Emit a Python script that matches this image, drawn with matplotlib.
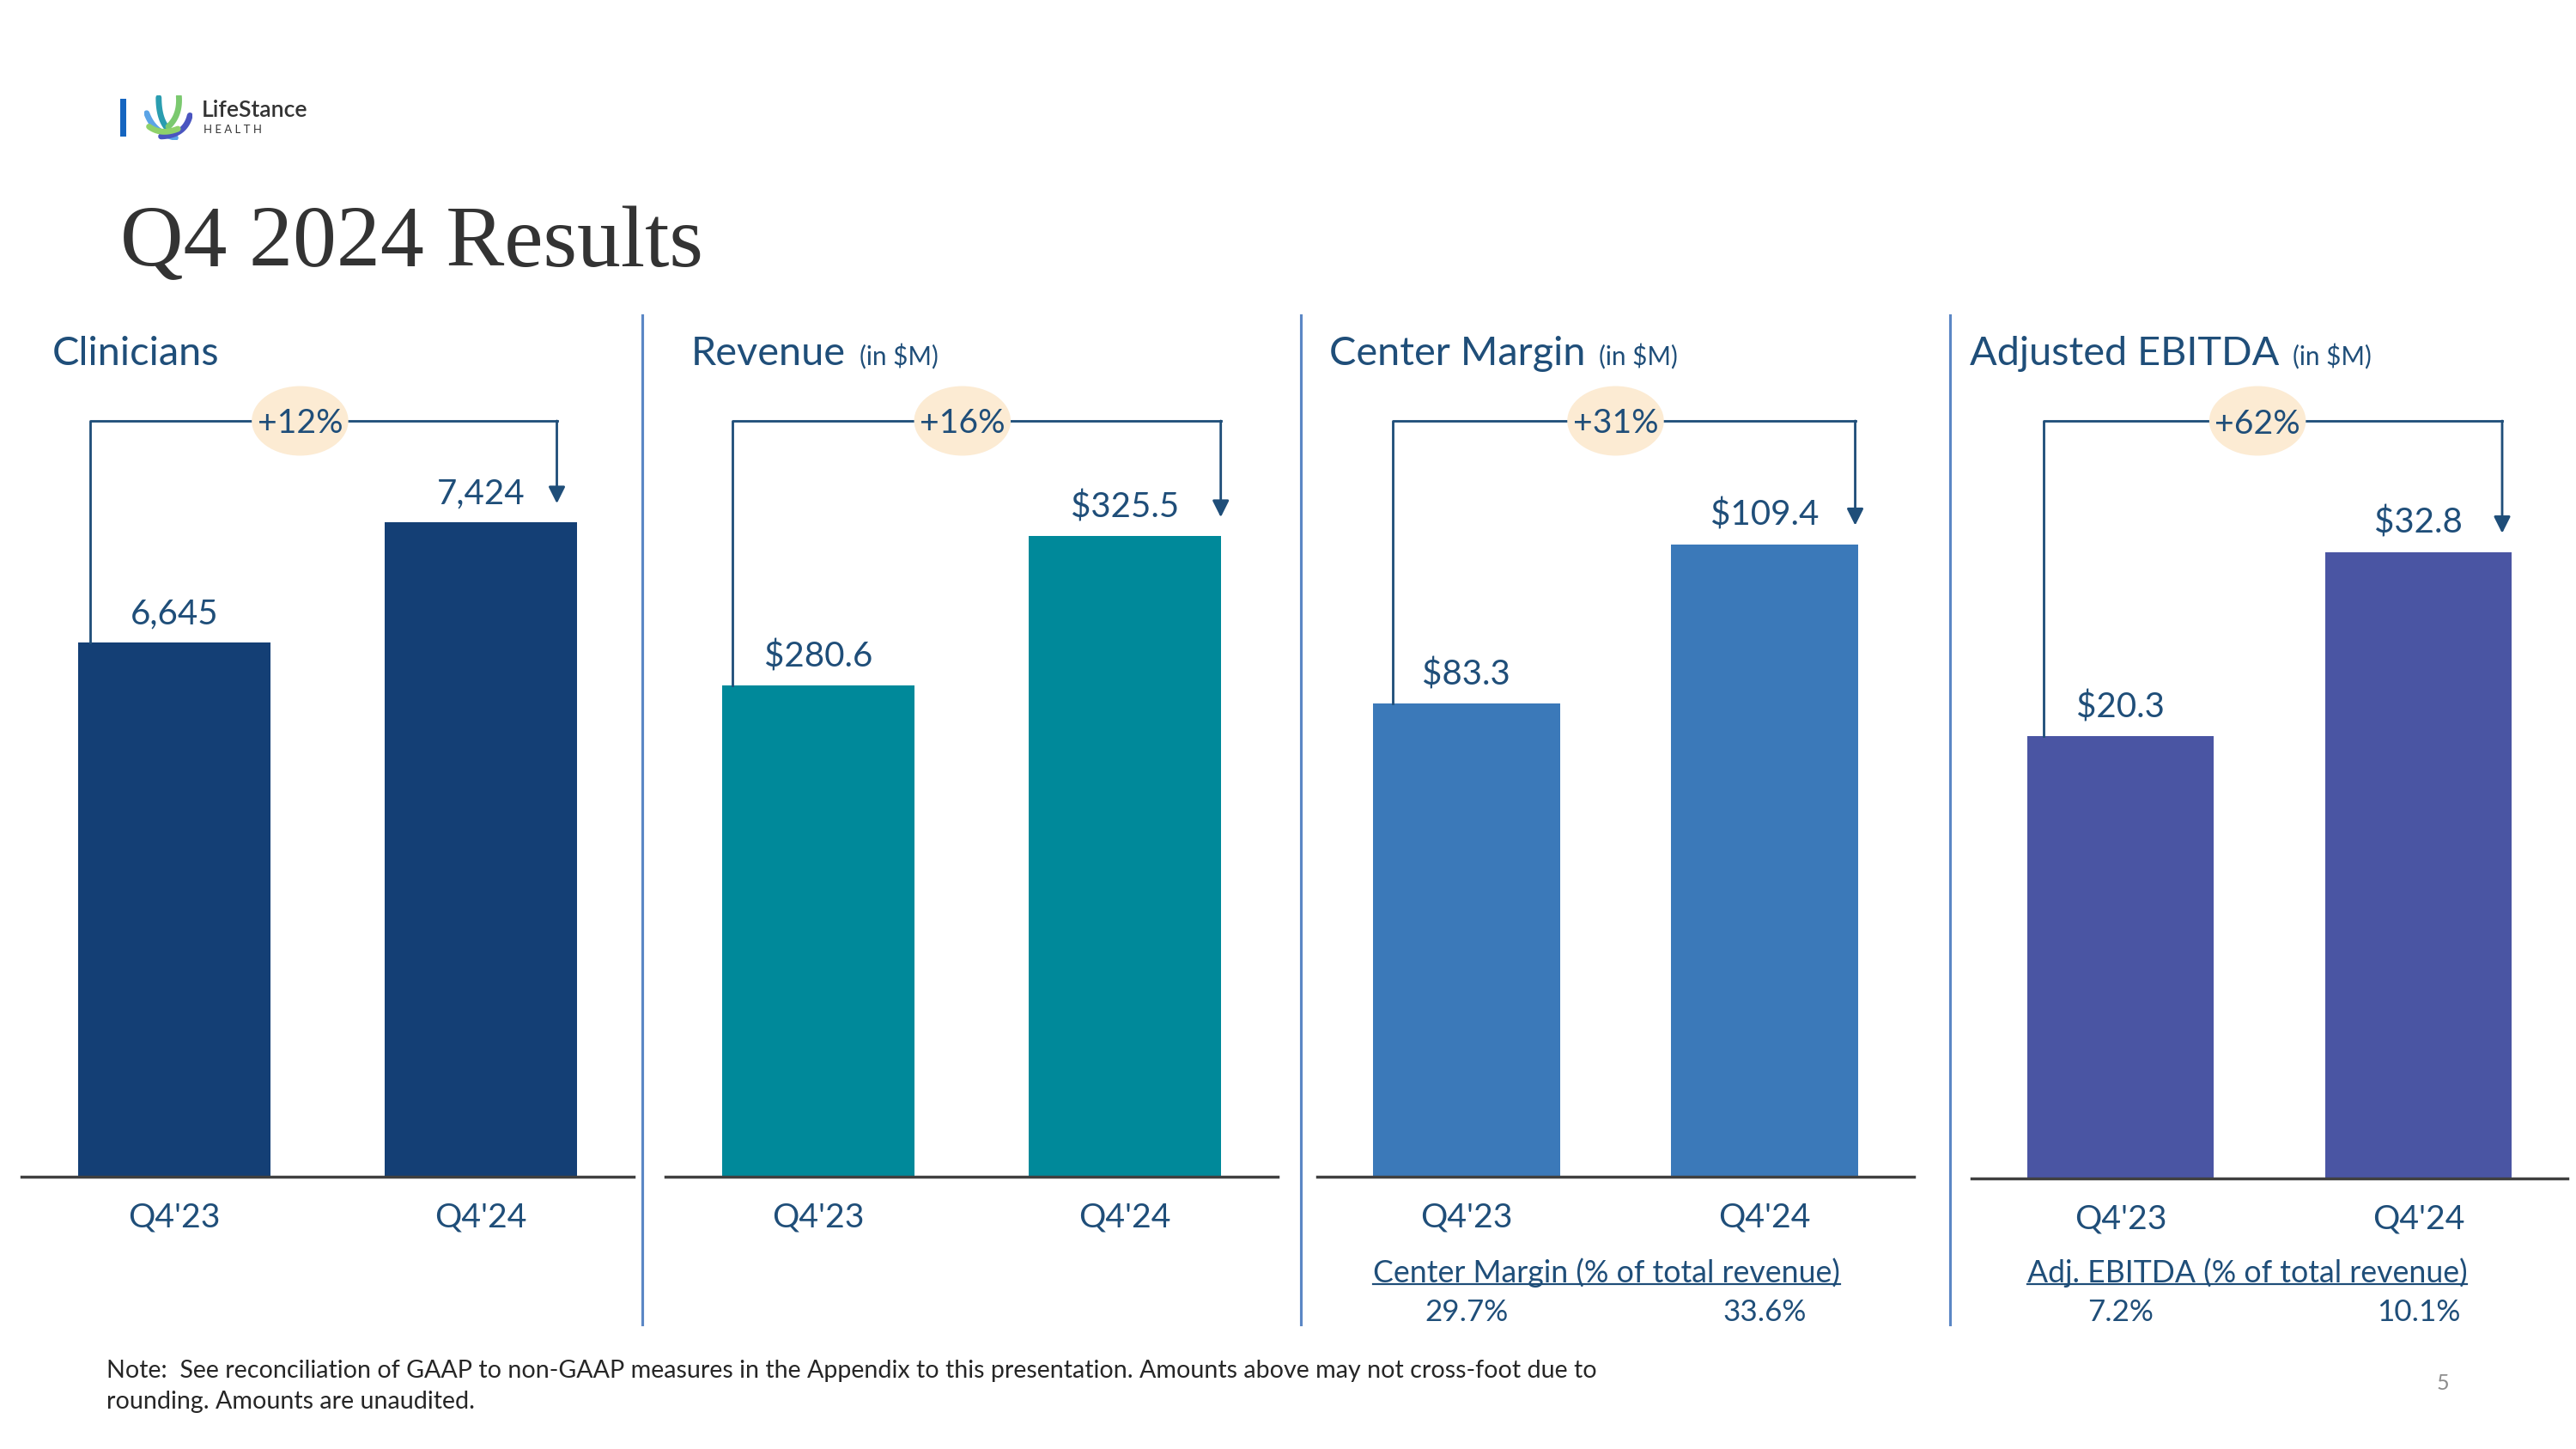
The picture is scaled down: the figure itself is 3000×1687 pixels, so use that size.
import numpy as np
import matplotlib.pyplot as plt
from matplotlib.patches import Ellipse, Rectangle
from matplotlib.lines import Line2D
from matplotlib.transforms import ScaledTranslation, blended_transform_factory

plt.rcParams['font.family'] = ['Lato', 'DejaVu Sans']

# ---- data ----
periods = ["Q4'23", "Q4'24"]
titles = ['Clinicians', 'Revenue', 'Center Margin', 'Adjusted EBITDA']
units = ['', '(in $M)', '(in $M)', '(in $M)']
clinicians = [6645, 7424]
revenue = [280.6, 325.5]
center_margin = [83.3, 109.4]
adj_ebitda = [20.3, 32.8]
growth = ['+12%', '+16%', '+31%', '+62%']
margin_pct = ['29.7%', '33.6%']
ebitda_pct = ['7.2%', '10.1%']
pct_titles = [None, None, 'Center Margin (% of total revenue)', 'Adj. EBITDA (% of total revenue)']

series = [clinicians, revenue, center_margin, adj_ebitda]
fmts = ['{:,.0f}', '${:.1f}', '${:.1f}', '${:.1f}']
pcts = [None, None, margin_pct, ebitda_pct]

# ---- style / layout ----
navy = '#1F4E79'
colors = ['#143F75', '#00899A', '#3B79B9', '#4A55A3']
W, H = 3000, 1687
boxes = [(25, 1370, 713), (775, 1370, 713), (1534, 1370, 695), (2296, 1372, 694)]
top_px = 490
floors = [3184, 133.0, 5.8, -9.7]
ceils = [8081, 360.1, 129.6, 41.7]
left_x = [-0.276, -0.28, -0.248, -0.259]
right_x = [1.249, 1.314, 1.303, 1.281]
badge_x = [0.41, 0.47, 0.50, 0.46]
title_px = [61, 805, 1548, 2294]

fig = plt.figure(figsize=(W / 225, H / 225), dpi=225)

# logo
fig.add_artist(Rectangle((140 / W, 1 - 159 / H), 7 / W, 44 / H, transform=fig.transFigure,
                         color='#1565C0', lw=0))
lax = fig.add_axes([168 / W, 1 - 163 / H, 56 / W, 52 / H])
lax.set_xlim(0, 1); lax.set_ylim(0, 1); lax.axis('off')
tt = np.linspace(0, 1, 30)
strokes = [((0.30, 0.95), (0.30, 0.35), (0.60, 0.15), '#2A9DB0'),
           ((0.72, 0.98), (0.75, 0.55), (0.50, 0.30), '#7BC96F'),
           ((0.05, 0.60), (0.20, 0.15), (0.65, 0.05), '#5BA4E6'),
           ((0.95, 0.55), (0.85, 0.10), (0.35, 0.08), '#4A55C0'),
           ((0.10, 0.30), (0.35, 0.10), (0.70, 0.25), '#8FD16A')]
for p0, p1, p2, c in strokes:
    bx = (1 - tt) ** 2 * p0[0] + 2 * (1 - tt) * tt * p1[0] + tt ** 2 * p2[0]
    by = (1 - tt) ** 2 * p0[1] + 2 * (1 - tt) * tt * p1[1] + tt ** 2 * p2[1]
    lax.plot(bx, by, color=c, lw=2.2, solid_capstyle='round')
fig.text(235 / W, 1 - 128 / H, 'LifeStance', fontsize=8.5, fontweight='semibold',
         color='#333333', va='center')
fig.text(237 / W, 1 - 151 / H, 'H E A L T H', fontsize=4.2, color='#333333', va='center')

# main title
fig.text(140 / W, 1 - 310 / H, 'Q4 2024 Results', fontsize=32.6, family='Liberation Serif',
         color='#333333', va='baseline')

# separators
for sx in [748, 1515, 2271]:
    fig.add_artist(Line2D([sx / W, sx / W], [1 - 367 / H, 1 - 1542 / H],
                          transform=fig.transFigure, color='#5B87C5', lw=1.0))

title_texts = []
sub_texts = []
for i in range(4):
    l, b, w = boxes[i]
    vals = series[i]
    ax = fig.add_axes([l / W, 1 - b / H, w / W, (b - top_px) / H])
    ax.set_xlim(-0.5, 1.5)
    ax.set_ylim(floors[i], ceils[i])
    x = np.arange(len(vals))
    ax.bar(x, np.array(vals) - floors[i], bottom=floors[i], width=0.628, color=colors[i])
    for sp in ['top', 'right', 'left']:
        ax.spines[sp].set_visible(False)
    ax.spines['bottom'].set_color('#404040')
    ax.spines['bottom'].set_linewidth(1.1)
    ax.set_yticks([])
    ax.set_xticks(x, periods)
    ax.tick_params(axis='x', length=0, pad=9.4, labelsize=12.5, labelcolor=navy)

    for xi, v in zip(x, vals):
        ax.annotate(fmts[i].format(v), (xi, v), xytext=(0, 7), textcoords='offset points',
                    ha='center', va='baseline', fontsize=12.9, color=navy)

    # growth bracket
    lx, rx, top = left_x[i], right_x[i], ceils[i]
    ax.plot([lx, lx, rx], [vals[0], top, top], color=navy, lw=0.9, clip_on=False)
    ax.annotate('', xy=(rx, vals[1]), xytext=(rx, top),
                arrowprops=dict(arrowstyle='-|>', color=navy, lw=0.9, shrinkA=0,
                                shrinkB=7, mutation_scale=13))
    trans = fig.dpi_scale_trans + ScaledTranslation(badge_x[i], top, ax.transData)
    ax.add_artist(Ellipse((0, 0), 0.50, 0.36, transform=trans, facecolor='#FCEBD3',
                          edgecolor='none', zorder=3, clip_on=False))
    ax.text(badge_x[i], top, growth[i], ha='center', va='center_baseline', fontsize=12.5,
            color=navy, zorder=4)

    t = fig.text(title_px[i] / W, 1 - 425 / H, titles[i], fontsize=15, color=navy,
                 va='baseline')
    title_texts.append((t, units[i]))

    if pcts[i] is not None:
        bt = blended_transform_factory(ax.transData, fig.transFigure)
        st = ax.text(-0.314, 1 - 1482 / H, pct_titles[i], transform=bt, ha='left',
                     va='center', fontsize=11.4, color=navy)
        sub_texts.append(st)
        for xi, p in zip(x, pcts[i]):
            ax.text(xi, 1 - 1528 / H, p, transform=bt, ha='center', va='center',
                    fontsize=11.2, color=navy)

# note and page number
fig.text(124 / W, 1 - 1596 / H,
         'Note:  See reconciliation of GAAP to non-GAAP measures in the Appendix to this '
         'presentation. Amounts above may not cross-foot due to', fontsize=9.15,
         color='#262626', va='center')
fig.text(124 / W, 1 - 1632 / H, 'rounding. Amounts are unaudited.', fontsize=9.15,
         color='#262626', va='center')
fig.text(2845 / W, 1 - 1611 / H, '5', fontsize=8, color='#8C8C8C', ha='center', va='center')

# units after titles and underlines need text extents
fig.canvas.draw()
inv = fig.transFigure.inverted()
for t, u in title_texts:
    if u:
        bb = t.get_window_extent().transformed(inv)
        fig.text(bb.x1 + 16 / W, 1 - 425 / H, u, fontsize=9.5, color=navy, va='baseline')
for st in sub_texts:
    bb = st.get_window_extent().transformed(inv)
    yl = bb.y0 + 0.12 * bb.height
    fig.add_artist(Line2D([bb.x0, bb.x1], [yl, yl], transform=fig.transFigure,
                          color=navy, lw=0.7))

fig.savefig('out.png', dpi=225)
